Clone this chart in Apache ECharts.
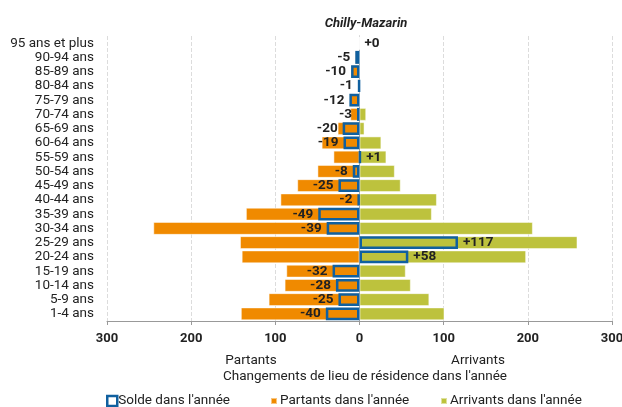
<!DOCTYPE html>
<html>
<head>
<meta charset="utf-8">
<script src="https://cdn.jsdelivr.net/npm/echarts@6/dist/echarts.min.js"></script>
<style>
  html, body { margin: 0; padding: 0; background: #fff; }
  #chart { width: 622px; height: 407px; }
</style>
</head>
<body>
<div id="chart"></div>
<script>
var ages = ['95 ans et plus', '90-94 ans', '85-89 ans', '80-84 ans', '75-79 ans', '70-74 ans',
  '65-69 ans', '60-64 ans', '55-59 ans', '50-54 ans', '45-49 ans', '40-44 ans', '35-39 ans',
  '30-34 ans', '25-29 ans', '20-24 ans', '15-19 ans', '10-14 ans', '5-9 ans', '1-4 ans'];
var partants = [0, 5, 10, 1, 12, 11, 26, 45, 31, 50, 74, 94, 135, 245, 142, 140, 87, 89, 108, 141];
var arrivants = [0, 0, 0, 0, 0, 8, 6, 26, 32, 42, 49, 92, 86, 206, 259, 198, 55, 61, 83, 101];
var solde = [0, -5, -10, -1, -12, -3, -20, -19, 1, -8, -25, -2, -49, -39, 117, 58, -32, -28, -25, -40];
var xTicks = [-300, 300, 100];

var orange = '#f08a00';
var green = '#bdc23d';
var blue = '#10609f';
var font = 'Roboto';

var chart = echarts.init(document.getElementById('chart'));

function legendFor(name, left, size, style, gap) {
  return {
    data: [{ name: name, icon: 'rect', itemStyle: style }],
    left: left,
    top: 394,
    itemWidth: size,
    itemHeight: size,
    itemGap: 0,
    padding: 0,
    textStyle: { fontFamily: font, fontSize: 13.5, color: '#222', padding: [0, 0, 0, gap] }
  };
}

chart.setOption({
  animation: false,
  title: {
    text: 'Chilly-Mazarin',
    left: 361,
    textAlign: 'center',
    top: 12,
    textStyle: { fontFamily: font, fontSize: 13, fontWeight: 'bold', fontStyle: 'italic', color: '#222' }
  },
  legend: [
    legendFor('Solde dans l\'année', 106, 10, { color: '#fff', borderColor: blue, borderWidth: 2.5 }, -4),
    legendFor('Partants dans l\'année', 270, 6, { color: orange }, -2),
    legendFor('Arrivants dans l\'année', 440, 6, { color: green }, -2)
  ],
  grid: { left: 107, right: 10, top: 36, bottom: 86, outerBoundsMode: 'none' },
  xAxis: {
    type: 'value',
    min: xTicks[0],
    max: xTicks[1],
    interval: xTicks[2],
    axisLine: { show: true, lineStyle: { color: '#999' } },
    axisTick: { show: true, length: 4, lineStyle: { color: '#999' } },
    axisLabel: {
      fontFamily: font, fontSize: 13, fontWeight: 'bold', color: '#222', margin: 11,
      formatter: function (v) { return Math.abs(v); }
    },
    splitLine: { show: true, lineStyle: { color: '#dcdcdc', type: 'dashed' } }
  },
  yAxis: {
    type: 'category',
    inverse: true,
    data: ages,
    axisLine: { show: true, onZero: true, lineStyle: { color: '#aaa' } },
    axisTick: { show: false },
    axisLabel: { interval: 0, fontFamily: font, fontSize: 13.5, color: '#222', margin: 13 }
  },
  graphic: [
    { type: 'text', x: 251, y: 354, style: { text: 'Partants', align: 'center', fontFamily: font, fontSize: 13.5, fill: '#222' } },
    { type: 'text', x: 478, y: 354, style: { text: 'Arrivants', align: 'center', fontFamily: font, fontSize: 13.5, fill: '#222' } },
    { type: 'text', x: 365, y: 370, style: { text: 'Changements de lieu de résidence dans l\'année', align: 'center', fontFamily: font, fontSize: 13.5, fill: '#222' } }
  ],
  series: [
    {
      name: 'Partants dans l\'année',
      type: 'bar',
      barCategoryGap: '9%',
      barGap: '-100%',
      data: partants.map(function (v) { return -v; }),
      itemStyle: { color: orange, borderColor: 'rgba(255,255,255,0.5)', borderWidth: 1 }
    },
    {
      name: 'Arrivants dans l\'année',
      type: 'bar',
      barCategoryGap: '9%',
      barGap: '-100%',
      data: arrivants,
      itemStyle: { color: green, borderColor: 'rgba(255,255,255,0.5)', borderWidth: 1 }
    },
    {
      name: 'Solde dans l\'année',
      type: 'bar',
      barCategoryGap: '9%',
      barGap: '-100%',
      z: 5,
      data: solde.map(function (v) {
        return {
          value: v,
          itemStyle: v === 0 ? { borderWidth: 0 } : {},
          label: { position: v < 0 ? 'left' : 'right' }
        };
      }),
      itemStyle: { color: 'rgba(0,0,0,0)', borderColor: blue, borderWidth: 2.5 },
      label: {
        show: true,
        distance: 5,
        fontFamily: font,
        fontSize: 13.5,
        fontWeight: 'bold',
        color: '#222',
        formatter: function (p) { return (p.value >= 0 ? '+' : '') + p.value; }
      }
    }
  ]
});
</script>
</body>
</html>
